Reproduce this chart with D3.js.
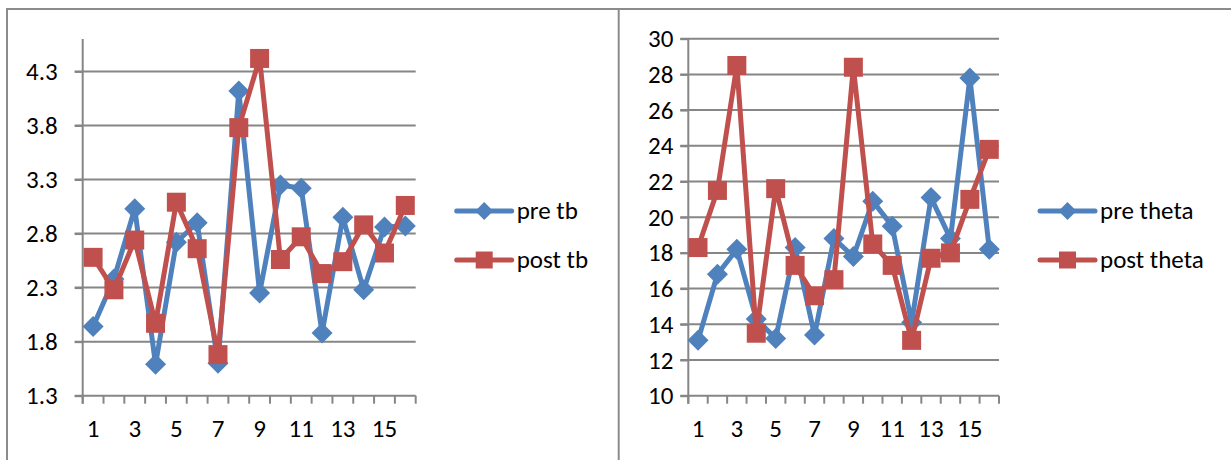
<!DOCTYPE html>
<html>
<head>
<meta charset="utf-8">
<script src="https://cdn.jsdelivr.net/npm/d3@7"></script>
<style>
  html, body { margin: 0; padding: 0; background: #fff; }
  svg { display: block; }
  text { font-family: Carlito, Calibri, Lato, sans-serif; fill: #000; }
</style>
</head>
<body>
<svg id="chart" width="1231" height="460"></svg>
<script>
const categories = [1,2,3,4,5,6,7,8,9,10,11,12,13,14,15,16];
const preTb   = [1.94,2.38,3.03,1.59,2.72,2.90,1.60,4.12,2.25,3.25,3.22,1.88,2.95,2.28,2.86,2.87];
const postTb  = [2.58,2.28,2.74,1.97,3.09,2.66,1.68,3.78,4.42,2.56,2.77,2.43,2.54,2.88,2.62,3.06];
const preTheta  = [13.1,16.8,18.2,14.3,13.2,18.3,13.4,18.8,17.8,20.9,19.5,14.1,21.1,18.8,27.8,18.2];
const postTheta = [18.3,21.5,28.5,13.5,21.6,17.3,15.6,16.5,28.4,18.5,17.3,13.1,17.7,18.0,21.0,23.8];
const tbTicks = [1.3,1.8,2.3,2.8,3.3,3.8,4.3];
const thetaTicks = [10,12,14,16,18,20,22,24,26,28,30];
const xLabels = ["1","3","5","7","9","11","13","15"];

const FONT = "Carlito, Calibri, Lato, sans-serif";
const FS = "25px";
const BLUE = "#4F81BD", RED = "#C0504D", GRID = "#868686", BORDER = "#8c8c8c";
const svg = d3.select("#chart");

// chart borders
svg.append("line").attr("x1", 7).attr("x2", 1231).attr("y1", 9).attr("y2", 9)
  .attr("stroke", BORDER).attr("stroke-width", 2);
svg.append("line").attr("x1", 7).attr("x2", 7).attr("y1", 8).attr("y2", 460)
  .attr("stroke", BORDER).attr("stroke-width", 2);
svg.append("line").attr("x1", 618.7).attr("x2", 618.7).attr("y1", 8).attr("y2", 460)
  .attr("stroke", BORDER).attr("stroke-width", 2);

function drawChart(cfg) {
  const g = svg.append("g");
  const x = d3.scaleBand().domain(categories).range([cfg.x0, cfg.x1]).padding(0);
  const y = d3.scaleLinear().domain(cfg.domain).range([cfg.yBottom, cfg.yTop]);

  // gridlines
  g.append("g").selectAll("line").data(cfg.ticks.slice(1)).join("line")
    .attr("x1", cfg.x0 - 8).attr("x2", cfg.x1)
    .attr("y1", d => y(d)).attr("y2", d => y(d))
    .attr("stroke", GRID).attr("stroke-width", 2);

  // y axis
  const ya = g.append("g").attr("transform", `translate(${cfg.x0},0)`)
    .call(d3.axisLeft(y).tickValues(cfg.ticks).tickSize(8).tickPadding(cfg.labelPad)
      .tickFormat(cfg.fmt));
  ya.attr("font-size", null).attr("font-family", null);
  ya.select(".domain").remove();
  ya.selectAll(".tick line").attr("stroke", GRID).attr("stroke-width", 2);
  ya.selectAll(".tick text").style("font-size", FS).style("font-family", FONT)
    .attr("fill", "#000");
  g.append("line").attr("x1", cfg.x0).attr("x2", cfg.x0)
    .attr("y1", cfg.yTop).attr("y2", cfg.yBottom + 8)
    .attr("stroke", GRID).attr("stroke-width", 2);

  // x axis baseline + tick marks at category boundaries
  g.append("line").attr("x1", cfg.x0 - 8).attr("x2", cfg.x1)
    .attr("y1", cfg.yBottom).attr("y2", cfg.yBottom)
    .attr("stroke", GRID).attr("stroke-width", 2);
  const bounds = categories.map(c => x(c)).concat([cfg.x1]);
  g.append("g").selectAll("line").data(bounds).join("line")
    .attr("x1", d => d).attr("x2", d => d)
    .attr("y1", cfg.yBottom).attr("y2", cfg.yBottom + 8)
    .attr("stroke", GRID).attr("stroke-width", 2);

  const xa = g.append("g").attr("transform", `translate(0,${cfg.yBottom})`)
    .call(d3.axisBottom(x).tickSize(0).tickPadding(24)
      .tickFormat(d => xLabels.includes(String(d)) ? String(d) : ""));
  xa.attr("font-size", null).attr("font-family", null);
  xa.select(".domain").remove();
  xa.selectAll(".tick text").style("font-size", FS).style("font-family", FONT)
    .attr("fill", "#000");

  const line = d3.line().x((d, i) => x(categories[i]) + x.bandwidth() / 2).y(d => y(d));

  cfg.series.forEach(s => {
    g.append("path").datum(s.values).attr("d", line)
      .attr("fill", "none").attr("stroke", s.color).attr("stroke-width", 5)
      .attr("stroke-linejoin", "round");
    const pts = g.append("g").selectAll("path").data(s.values).join("path")
      .attr("transform", (d, i) => `translate(${x(categories[i]) + x.bandwidth() / 2},${y(d)})`)
      .attr("fill", s.color);
    if (s.shape === "diamond") pts.attr("d", "M0,-10.5L10.5,0L0,10.5L-10.5,0Z");
    else pts.attr("d", "M-9.5,-9.5H9.5V9.5H-9.5Z");
  });

  // legend
  const lg = g.append("g");
  cfg.series.forEach((s, i) => {
    const ly = cfg.legY[i];
    lg.append("line").attr("x1", cfg.legX).attr("x2", cfg.legX + 55)
      .attr("y1", ly).attr("y2", ly).attr("stroke", s.color).attr("stroke-width", 5)
      .attr("stroke-linecap", "round");
    const m = lg.append("path").attr("transform", `translate(${cfg.legX + 27.5},${ly})`)
      .attr("fill", s.color);
    if (s.shape === "diamond") m.attr("d", "M0,-9L9,0L0,9L-9,0Z");
    else m.attr("d", "M-8.5,-8.5H8.5V8.5H-8.5Z");
    lg.append("text").attr("x", cfg.legX + 60).attr("y", ly).attr("dy", "0.3em")
      .style("font-size", FS).style("font-family", FONT).text(s.name);
  });
}

drawChart({
  x0: 82.7, x1: 415.7, yTop: 39, yBottom: 395.7, domain: [1.3, 4.6],
  ticks: tbTicks, fmt: d3.format(".1f"), labelPad: 17,
  legX: 456.7, legY: [211, 260],
  series: [
    { name: "pre tb", values: preTb, color: BLUE, shape: "diamond" },
    { name: "post tb", values: postTb, color: RED, shape: "square" }
  ]
});

drawChart({
  x0: 688.3, x1: 999, yTop: 38.7, yBottom: 395.7, domain: [10, 30],
  ticks: thetaTicks, fmt: d3.format("d"), labelPad: 7,
  legX: 1040, legY: [211, 260],
  series: [
    { name: "pre theta", values: preTheta, color: BLUE, shape: "diamond" },
    { name: "post theta", values: postTheta, color: RED, shape: "square" }
  ]
});
</script>
</body>
</html>
